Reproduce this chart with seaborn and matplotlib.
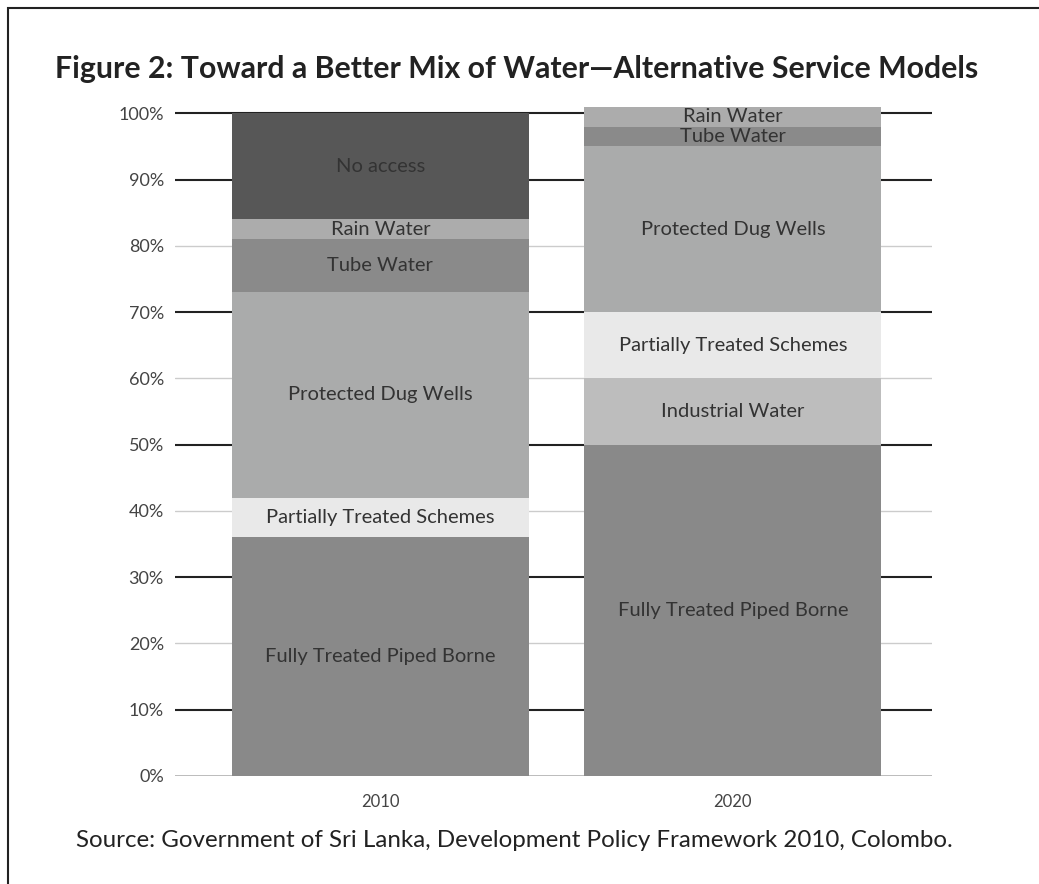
import matplotlib
matplotlib.use("Agg")
import matplotlib.pyplot as plt
import seaborn as sns
from matplotlib.patches import Rectangle

sns.set_theme(style="white")
plt.rcParams['font.family'] = ['Lato', 'DejaVu Sans']

years = ["2010", "2020"]

seg_2010 = ["Fully Treated Piped Borne", "Partially Treated Schemes", "Protected Dug Wells",
            "Tube Water", "Rain Water", "No access"]
val_2010 = [36, 6, 31, 8, 3, 16]

seg_2020 = ["Fully Treated Piped Borne", "Industrial Water", "Partially Treated Schemes",
            "Protected Dug Wells", "Tube Water", "Rain Water"]
val_2020 = [50, 10, 10, 25, 3, 3]

seg_colors = {
    "Fully Treated Piped Borne": "#898989",
    "Partially Treated Schemes": "#e9e9e9",
    "Protected Dug Wells": "#aaabab",
    "Tube Water": "#8a8a8a",
    "Rain Water": "#acacac",
    "No access": "#575757",
    "Industrial Water": "#bdbdbd",
}

yticks = [0, 10, 20, 30, 40, 50, 60, 70, 80, 90, 100]
ytick_labels = [f"{v}%" for v in yticks]

title = "Figure 2: Toward a Better Mix of Water\u2014Alternative Service Models"
source = "Source: Government of Sri Lanka, Development Policy Framework 2010, Colombo."

fig = plt.figure(figsize=(10.39, 8.84), dpi=100)
ax = fig.add_axes([0.1684, 0.1222, 0.7286, 0.7579])

# gridlines
for v in yticks:
    dark = (v % 20 == 10) or v == 100
    if v == 0:
        col, lw = "#b0b0b0", 1.2
    elif dark:
        col, lw = "#222222", 1.5
    else:
        col, lw = "#cccccc", 1.0
    ax.axhline(v, color=col, lw=lw, zorder=0)

for xi, (yr, segs, vals) in enumerate([(years[0], seg_2010, val_2010), (years[1], seg_2020, val_2020)]):
    bottom = 0
    for s, v in zip(segs, vals):
        sns.barplot(x=[yr], y=[v], bottom=bottom, order=years, color=seg_colors[s],
                    saturation=1, width=0.843, linewidth=0, errorbar=None, ax=ax, zorder=2)
        ax.text(xi, bottom + v / 2, s, ha="center", va="center", fontsize=14.5,
                color="#333333", zorder=3)
        bottom += v

ax.set_xlim(-0.583, 1.565)
ax.set_ylim(0, 101.1)
ax.set_yticks(yticks)
ax.set_yticklabels(ytick_labels, fontsize=13, color="#444444")
ax.tick_params(axis="y", length=0, pad=8)
ax.tick_params(axis="x", length=0, pad=13, labelsize=12, labelcolor="#444444")
ax.set_xlabel("")
ax.set_ylabel("")
for sp in ax.spines.values():
    sp.set_visible(False)

fig.text(0.497, 0.922, title, ha="center", va="center", fontsize=21.8, fontweight="bold", color="#222222")
fig.text(0.495, 0.049, source, ha="center", va="center", fontsize=17.4, color="#222222")

fig.add_artist(Rectangle((8 / 1039, -0.05), 1.2, 1 - 8 / 884 + 0.05, transform=fig.transFigure,
                         fill=False, edgecolor="#222222", lw=1.5))

fig.savefig("out.png", dpi=100)
